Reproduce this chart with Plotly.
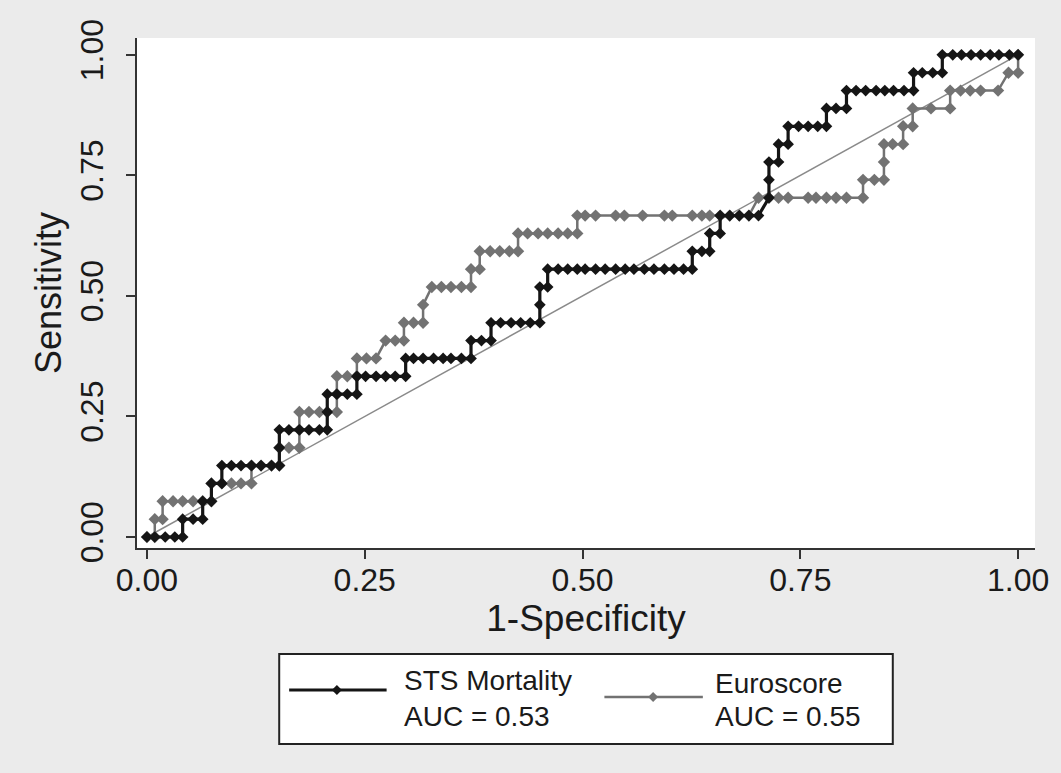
import plotly.graph_objects as go

# ---------------- data ----------------
N_POS = 27

sts_fpr = [0, 0.009, 0.021, 0.032, 0.041,
           0.041, 0.053, 0.064,
           0.064, 0.074,
           0.074, 0.086,
           0.086, 0.097, 0.108, 0.120, 0.131, 0.143, 0.152,
           0.152, 0.152, 0.163, 0.175, 0.186, 0.198, 0.207,
           0.207, 0.207, 0.218, 0.230, 0.241,
           0.241, 0.251, 0.263, 0.274, 0.285, 0.297,
           0.297, 0.306, 0.317, 0.329, 0.340, 0.349, 0.361, 0.372,
           0.372, 0.384, 0.395,
           0.395, 0.406, 0.418, 0.429, 0.440, 0.451,
           0.451, 0.451, 0.460,
           0.460, 0.472, 0.483, 0.494, 0.503, 0.515, 0.526, 0.538, 0.549, 0.559,
           0.571, 0.582, 0.594, 0.605, 0.616, 0.626,
           0.626, 0.637, 0.646,
           0.646, 0.658,
           0.658, 0.669, 0.680, 0.691, 0.702,
           0.714, 0.714, 0.714, 0.725,
           0.725, 0.736,
           0.736, 0.748, 0.759, 0.770, 0.780,
           0.780, 0.791, 0.803,
           0.803, 0.814, 0.825, 0.837, 0.847, 0.857, 0.869, 0.880,
           0.880, 0.890, 0.902, 0.913,
           0.913, 0.925, 0.935, 0.946, 0.957, 0.968, 0.978, 0.990, 1.0]
sts_pos = [0, 0, 0, 0, 0,
           1, 1, 1,
           2, 2,
           3, 3,
           4, 4, 4, 4, 4, 4, 4,
           5, 6, 6, 6, 6, 6, 6,
           7, 8, 8, 8, 8,
           9, 9, 9, 9, 9, 9,
           10, 10, 10, 10, 10, 10, 10, 10,
           11, 11, 11,
           12, 12, 12, 12, 12, 12,
           13, 14, 14,
           15, 15, 15, 15, 15, 15, 15, 15, 15, 15,
           15, 15, 15, 15, 15, 15,
           16, 16, 16,
           17, 17,
           18, 18, 18, 18, 18,
           19, 20, 21, 21,
           22, 22,
           23, 23, 23, 23, 23,
           24, 24, 24,
           25, 25, 25, 25, 25, 25, 25, 25,
           26, 26, 26, 26,
           27, 27, 27, 27, 27, 27, 27, 27, 27]

euro_fpr = [0, 0.009, 0.009, 0.018, 0.018, 0.030, 0.041, 0.053, 0.064, 0.074,
            0.074, 0.086, 0.097, 0.108, 0.120,
            0.120, 0.131, 0.143, 0.152,
            0.152, 0.163, 0.175,
            0.175, 0.175, 0.186, 0.198, 0.207, 0.218,
            0.218, 0.218, 0.230, 0.241,
            0.241, 0.252, 0.263,
            0.274, 0.285, 0.295,
            0.295, 0.306, 0.317,
            0.317, 0.327, 0.338, 0.349, 0.361, 0.372,
            0.372, 0.382,
            0.382, 0.394, 0.405, 0.416, 0.426,
            0.426, 0.437, 0.449, 0.460, 0.472, 0.483, 0.494,
            0.494, 0.503, 0.515, 0.538, 0.548, 0.569, 0.594, 0.603, 0.626, 0.637,
            0.646, 0.658, 0.669, 0.680, 0.691,
            0.702, 0.714, 0.725, 0.736, 0.759, 0.768, 0.780, 0.791, 0.803, 0.822,
            0.822, 0.835, 0.846,
            0.846, 0.846, 0.856, 0.868,
            0.868, 0.879,
            0.879, 0.900, 0.922,
            0.922, 0.934, 0.945, 0.957, 0.977,
            0.989, 1.0, 1.0]
euro_pos = [0, 0, 1, 1, 2, 2, 2, 2, 2, 2,
            3, 3, 3, 3, 3,
            4, 4, 4, 4,
            5, 5, 5,
            6, 7, 7, 7, 7, 7,
            8, 9, 9, 9,
            10, 10, 10,
            11, 11, 11,
            12, 12, 12,
            13, 14, 14, 14, 14, 14,
            15, 15,
            16, 16, 16, 16, 16,
            17, 17, 17, 17, 17, 17, 17,
            18, 18, 18, 18, 18, 18, 18, 18, 18, 18,
            18, 18, 18, 18, 18,
            19, 19, 19, 19, 19, 19, 19, 19, 19, 19,
            20, 20, 20,
            21, 22, 22, 22,
            23, 23,
            24, 24, 24,
            25, 25, 25, 25, 25,
            26, 26, 27]

sts_sens = [p / N_POS for p in sts_pos]
euro_sens = [p / N_POS for p in euro_pos]

ref_x = [0, 1]
ref_y = [0, 1]

tick_vals = [0, 0.25, 0.5, 0.75, 1.0]
tick_text = ["0.00", "0.25", "0.50", "0.75", "1.00"]

legend_names = ["STS Mortality", "Euroscore"]
legend_auc = ["AUC = 0.53", "AUC = 0.55"]

# ---------------- styling ----------------
W, H = 1061, 773
L, R, T, B = 137, 21, 38, 225
BLACK = "#151515"
GRAY = "#727272"
FONT = "Liberation Sans, Arial, sans-serif"
TXT = "#1a1a1a"


def px(X):
    return (X - L) / (W - L - R)


def py(Y):
    return (H - B - Y) / (H - T - B)


fig = go.Figure()

fig.add_trace(go.Scatter(x=ref_x, y=ref_y, mode="lines",
                         line=dict(color="#8a8a8a", width=1.5),
                         hoverinfo="skip", showlegend=False))
fig.add_trace(go.Scatter(x=euro_fpr, y=euro_sens, mode="lines+markers",
                         line=dict(color=GRAY, width=2.5),
                         marker=dict(symbol="diamond", size=9.5, color=GRAY,
                                     line=dict(width=0)),
                         name=legend_names[1], showlegend=False))
fig.add_trace(go.Scatter(x=sts_fpr, y=sts_sens, mode="lines+markers",
                         line=dict(color=BLACK, width=3.2),
                         marker=dict(symbol="diamond", size=9, color=BLACK,
                                     line=dict(width=0)),
                         name=legend_names[0], showlegend=False))

axis_common = dict(
    tickvals=tick_vals, ticktext=tick_text,
    ticks="outside", ticklen=9, tickwidth=1.5, tickcolor="#333",
    showline=True, linecolor="#333", linewidth=1.5,
    showgrid=False, zeroline=False,
    tickfont=dict(family=FONT, size=32, color=TXT),
)

fig.update_xaxes(range=[-0.0114, 1.0194], ticklabelstandoff=-6,
                 title=dict(text="1-Specificity", standoff=0,
                            font=dict(family=FONT, size=37, color=TXT)),
                 **axis_common)
fig.update_yaxes(range=[-0.0228, 1.035], tickangle=-90, ticklabelstandoff=10,
                 title=dict(text="Sensitivity", standoff=2,
                            font=dict(family=FONT, size=36, color=TXT)),
                 **axis_common)

# ---------------- custom legend ----------------
shapes = [
    dict(type="rect", xref="paper", yref="paper",
         x0=px(280), x1=px(897), y0=py(744), y1=py(654),
         line=dict(color="#222", width=2), fillcolor="white", layer="below"),
    dict(type="line", xref="paper", yref="paper",
         x0=px(290), x1=px(388), y0=py(690), y1=py(690),
         line=dict(color=BLACK, width=3)),
    dict(type="line", xref="paper", yref="paper",
         x0=px(607), x1=px(706), y0=py(697), y1=py(697),
         line=dict(color=GRAY, width=2.5)),
]


def diamond(cx, cy, r, color):
    path = (f"M {px(cx - r)} {py(cy)} L {px(cx)} {py(cy - r)} "
            f"L {px(cx + r)} {py(cy)} L {px(cx)} {py(cy + r)} Z")
    return dict(type="path", xref="paper", yref="paper", path=path,
                fillcolor=color, line=dict(color=color, width=0))


shapes.append(diamond(338, 690, 5, BLACK))
shapes.append(diamond(656, 697, 5, GRAY))

annotations = []
for name, auc, x0, yname in [(legend_names[0], legend_auc[0], 403, 680),
                             (legend_names[1], legend_auc[1], 716, 683)]:
    annotations.append(dict(xref="paper", yref="paper", x=px(x0), y=py(yname),
                            text=name, showarrow=False, xanchor="left",
                            yanchor="middle",
                            font=dict(family=FONT, size=28, color=TXT)))
    annotations.append(dict(xref="paper", yref="paper", x=px(x0), y=py(716),
                            text=auc, showarrow=False, xanchor="left",
                            yanchor="middle",
                            font=dict(family=FONT, size=28, color=TXT)))

fig.update_layout(
    width=W, height=H,
    margin=dict(l=L, r=R, t=T, b=B),
    paper_bgcolor="#ebebeb", plot_bgcolor="white",
    shapes=shapes, annotations=annotations,
    showlegend=False,
)

fig.write_html(
    "out.html",
    config={"displayModeBar": False},
    post_script="document.body.style.margin='0';"
                "document.body.style.background='#ebebeb';",
)
